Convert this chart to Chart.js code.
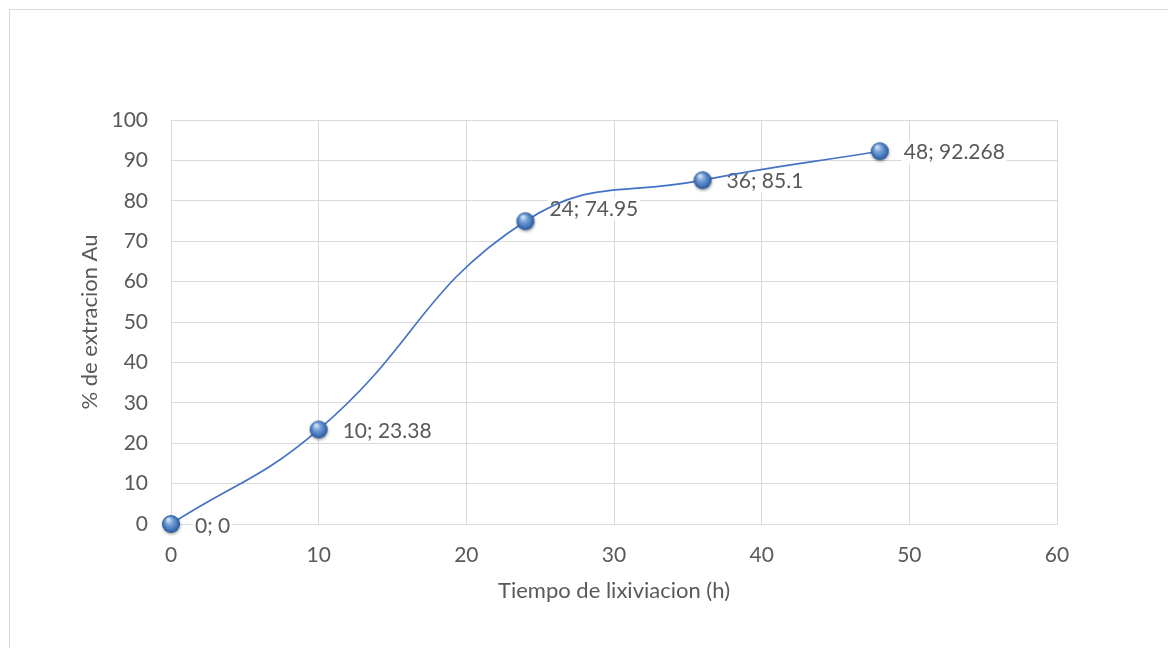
<!DOCTYPE html>
<html><head><meta charset="utf-8">
<script src="https://cdn.jsdelivr.net/npm/chart.js@4/dist/chart.umd.min.js"></script>
<style>html,body{margin:0;padding:0;background:#fff}#wrap{width:1168px;height:648px}</style>
</head><body><div id="wrap"><canvas id="c" width="1168" height="648"></canvas></div>
<script>
const timeHours = [0, 10, 24, 36, 48];
const extractionPct = [0, 23.38, 74.95, 85.1, 92.268];
const xTicks = [0, 10, 20, 30, 40, 50, 60];
const yTicks = [0, 10, 20, 30, 40, 50, 60, 70, 80, 90, 100];
const xTitle = 'Tiempo de lixiviacion (h)';
const yTitle = '% de extracion Au';

const FONT = 'Lato, "Open Sans", sans-serif';
const GRAY = '#595959';
const GRID = '#d9d9d9';

// spherical marker
function makeBall(r){
  const s = (r + 4) * 2;
  const cv = document.createElement('canvas');
  cv.width = s; cv.height = s;
  const g = cv.getContext('2d');
  const c = s / 2;
  g.shadowColor = 'rgba(0,0,0,0.35)';
  g.shadowBlur = 3; g.shadowOffsetX = 0.5; g.shadowOffsetY = 1.5;
  const grad = g.createRadialGradient(c - r*0.3, c - r*0.5, r*0.1, c, c, r);
  grad.addColorStop(0, '#cfe0f5');
  grad.addColorStop(0.35, '#78a2da');
  grad.addColorStop(0.8, '#3d6fb5');
  grad.addColorStop(1, '#2b5592');
  g.fillStyle = grad;
  g.beginPath(); g.arc(c, c, r, 0, Math.PI*2); g.fill();
  return cv;
}
const ball = makeBall(9);

const points = timeHours.map((x, i) => ({x, y: extractionPct[i]}));

const bgBorder = {
  id: 'bgBorder',
  beforeDraw(chart){
    const ctx = chart.ctx;
    ctx.save();
    ctx.fillStyle = '#fff';
    ctx.fillRect(0, 0, chart.width, chart.height);
    ctx.strokeStyle = GRID; ctx.lineWidth = 1;
    ctx.strokeRect(9.5, 9.5, 1300, 800);
    ctx.restore();
  }
};

const labelPlugin = {
  id: 'ptLabels',
  beforeDatasetsDraw(chart, args, opts){
    const ctx = chart.ctx;
    const meta = chart.getDatasetMeta(0);
    const dy = opts.dy || [];
    ctx.save();
    ctx.font = '21px ' + FONT;
    ctx.textBaseline = 'middle';
    ctx.textAlign = 'left';
    meta.data.forEach((el, i) => {
      const txt = timeHours[i] + '; ' + extractionPct[i];
      const w = ctx.measureText(txt).width;
      const x = el.x + 24, y = el.y + 1 + (dy[i] || 0);
      ctx.fillStyle = '#fff';
      ctx.fillRect(x - 2, y - 11, w + 4, 22);
      ctx.fillStyle = GRAY;
      ctx.fillText(txt, x, y);
    });
    ctx.restore();
  }
};

new Chart(document.getElementById('c'), {
  type: 'scatter',
  data: {
    datasets: [{
      data: points,
      showLine: true,
      clip: false,
      borderColor: '#4472c4',
      borderWidth: 1.7,
      tension: 0.45,
      pointStyle: ball,
      pointRadius: 9,
      pointHoverRadius: 9,
      fill: false
    }]
  },
  options: {
    responsive: false,
    animation: false,
    events: [],
    layout: { padding: { left: 0, top: 120, right: 111, bottom: 0 } },
    plugins: {
      legend: { display: false }, tooltip: { enabled: false },
      ptLabels: { dy: [1, 1, -13, 0, 0] }
    },
    scales: {
      x: {
        type: 'linear', min: 0, max: 60,
        afterBuildTicks: s => { s.ticks = xTicks.map(v => ({value: v})); },
        afterFit: s => { s.height = 124; },
        grid: { color: GRID, lineWidth: 1, drawTicks: false },
        border: { color: GRID },
        ticks: { color: GRAY, font: { family: FONT, size: 21 }, padding: 19, maxRotation: 0 },
        title: { display: true, text: xTitle, color: GRAY, font: { family: FONT, size: 22 }, padding: { top: 0, bottom: 44 } }
      },
      y: {
        type: 'linear', min: 0, max: 100,
        afterBuildTicks: s => { s.ticks = yTicks.map(v => ({value: v})); },
        afterFit: s => { s.width = 171; },
        grid: { color: GRID, lineWidth: 1, drawTicks: false },
        border: { color: GRID },
        ticks: { color: GRAY, font: { family: FONT, size: 21 }, padding: 23 },
        title: { display: true, text: yTitle, color: GRAY, font: { family: FONT, size: 22 }, padding: { top: 77, bottom: 0 } }
      }
    }
  },
  plugins: [bgBorder, labelPlugin]
});
</script>
</body></html>
